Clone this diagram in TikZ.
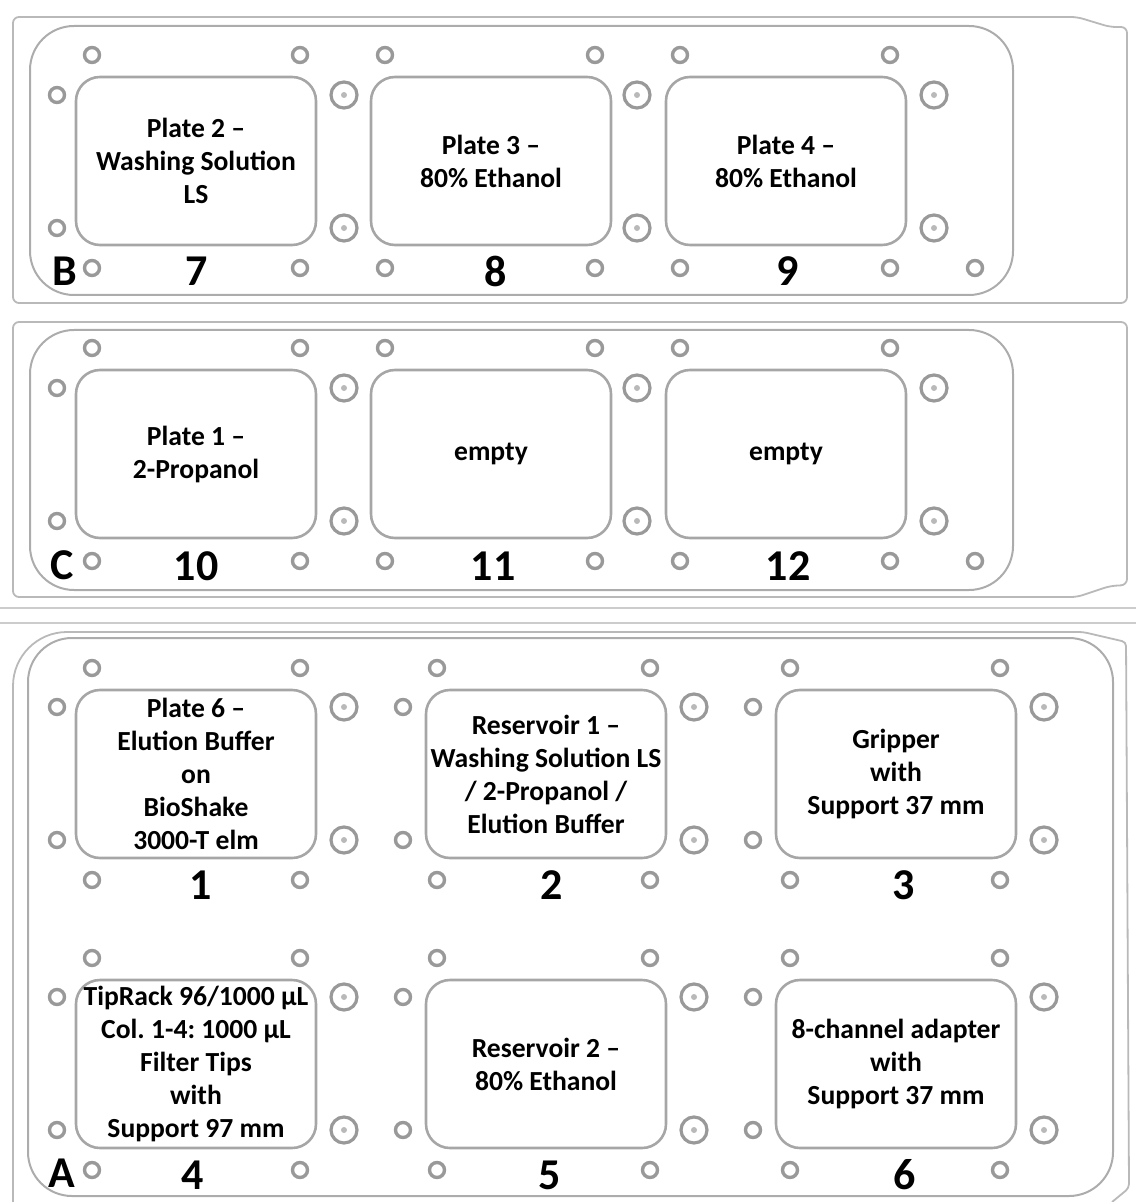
\documentclass[tikz,border=0pt]{standalone}
\usepackage{fontspec}
\setmainfont{Carlito}
\frenchspacing
\tikzset{
  deckedge/.style={draw=gray!55, line width=0.9pt},
  deckinner/.style={draw=gray!65, line width=1pt, rounded corners=22pt},
  sepline/.style={draw=gray!40, line width=0.6pt},
  hole/.style={draw=gray!80, line width=1.7pt},
  pin/.style={draw=gray!80, line width=1.6pt},
  pindot/.style={fill=gray!55},
  slot/.style={draw=gray!70, line width=1.3pt, rounded corners=12pt,
    minimum width=120pt, minimum height=84pt, inner sep=1pt, align=center,
    font=\bfseries\fontsize{13.8}{16.5}\selectfont},
  posno/.style={inner sep=0pt, font=\bfseries\fontsize{22}{24}\selectfont},
}

\begin{document}
\begin{tikzpicture}[x=0.5pt,y=-0.5pt]
\useasboundingbox (0,0) rectangle (1136,1202);

% deck rows B and C
\draw[deckedge, rounded corners=3pt] (13,17) -- (1077,17) -- (1110,27) -- (1127,27) -- (1127,303) -- (13,303) -- cycle;
\draw[deckinner] (30,26) rectangle (1013,295);
\draw[deckedge, rounded corners=3pt] (13,322) -- (1127,322) -- (1127,585) -- (1110,586) -- (1077,597) -- (13,597) -- cycle;
\draw[deckinner] (30,330) rectangle (1013,590);

\draw[sepline] (0,608) -- (1136,608);
\draw[sepline] (0,623) -- (1136,623);

% deck row A
\draw[deckedge] (13,1202) [rounded corners=27pt] -- (13,632) [rounded corners=2pt] -- (1083,632) -- (1126,642) -- (1129,1188) -- (1112,1202);
\draw[deckinner] (28,638) rectangle (1113,1196);

% holes, rows B and C
\foreach \dy in {0,293} {
  \begin{scope}[shift={(0,\dy)}]
    \foreach \x in {92,300,385,595,680,890}
      \draw[hole] (\x,55) circle (3.75pt);
    \foreach \x in {92,300,385,595,680,890,975}
      \draw[hole] (\x,268) circle (3.75pt);
    \foreach \y in {95,228} {
      \draw[hole] (57,\y) circle (3.75pt);
      \foreach \x in {344,637,934} {
        \draw[pin] (\x,\y) circle (6.5pt);
        \fill[pindot] (\x,\y) circle (1.5pt);
      }
    }
  \end{scope}
}

% holes, row A
\foreach \dy in {0,290} {
  \begin{scope}[shift={(0,\dy)}]
    \foreach \x in {92,300,437,650,790,1000} {
      \draw[hole] (\x,668) circle (3.75pt);
      \draw[hole] (\x,880) circle (3.75pt);
    }
    \foreach \y in {707,840} {
      \foreach \x in {57,403,753}
        \draw[hole] (\x,\y) circle (3.75pt);
      \foreach \x in {344,694,1044} {
        \draw[pin] (\x,\y) circle (6.5pt);
        \fill[pindot] (\x,\y) circle (1.5pt);
      }
    }
  \end{scope}
}

% slots
\node[slot] (s7) at (196,161) {Plate 2 --\\Washing Solution\\LS};
\node[slot] (s8) at (491,161) {Plate 3 --\\80\% Ethanol};
\node[slot] (s9) at (786,161) {Plate 4 --\\80\% Ethanol};
\node[slot] (s10) at (196,454) {Plate 1 --\\2-Propanol};
\node[slot] (s11) at (491,454) {empty};
\node[slot] (s12) at (786,454) {empty};
\node[slot] (s1) at (196,774) {Plate 6 --\\Elution Buffer\\on\\BioShake\\3000-T elm};
\node[slot] (s2) at (546,774) {Reservoir 1 --\\Washing Solution LS\\/ 2-Propanol /\\Elution Buffer};
\node[slot] (s3) at (896,774) {Gripper\\with\\Support 37 mm};
\node[slot] (s4) at (196,1064) {TipRack 96/1000 µL\\Col. 1-4: 1000 µL\\Filter Tips\\with\\Support 97 mm};
\node[slot] (s5) at (546,1064) {Reservoir 2 --\\80\% Ethanol};
\node[slot] (s6) at (896,1064) {8-channel adapter\\with\\Support 37 mm};

% position numbers
\node[posno] (rowB) at (65,271) {B};
\node[posno] (n7) at (197,271) {7};
\node[posno] (n8) at (496,271) {8};
\node[posno] (n9) at (788,271) {9};
\node[posno] (rowC) at (62,565) {C};
\node[posno] (n10) at (196,566) {10};
\node[posno] (n11) at (493,566) {11};
\node[posno] (n12) at (788,566) {12};
\node[posno] (n1) at (201,885) {1};
\node[posno] (n2) at (552,885) {2};
\node[posno] (n3) at (904,885) {3};
\node[posno] (rowA) at (62,1173) {A};
\node[posno] (n4) at (193,1175) {4};
\node[posno] (n5) at (550,1175) {5};
\node[posno] (n6) at (905,1175) {6};
\end{tikzpicture}
\end{document}
